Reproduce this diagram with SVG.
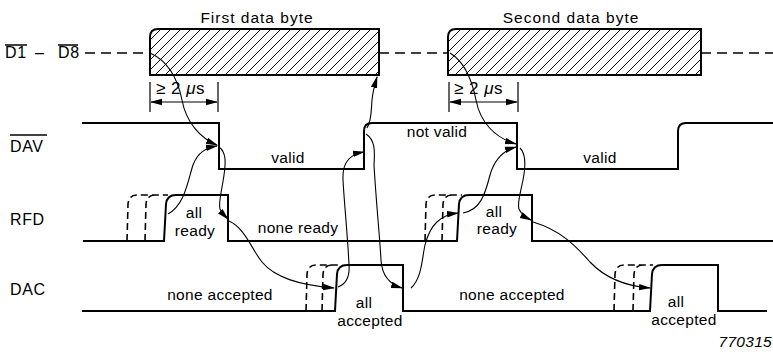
<svg xmlns="http://www.w3.org/2000/svg" width="773" height="356" viewBox="0 0 773 356">
<defs>
<pattern id="hatch" patternUnits="userSpaceOnUse" width="10" height="10">
<path d="M-1,1 L1,-1 M0,10 L10,0 M9,11 L11,9" stroke="#000" stroke-width="1"/>
</pattern>
<marker id="ah" viewBox="0 0 12 8" refX="11" refY="4" markerWidth="12" markerHeight="8" markerUnits="userSpaceOnUse" orient="auto">
<path d="M0,0.8 L12,4 L0,7.2 Z" fill="#000"/>
</marker>
<marker id="ahs" viewBox="0 0 12 8" refX="11" refY="4" markerWidth="12" markerHeight="8" markerUnits="userSpaceOnUse" orient="auto-start-reverse">
<path d="M0,0.8 L12,4 L0,7.2 Z" fill="#000"/>
</marker>
</defs>
<style>
text{font-family:"Liberation Sans",Arial,sans-serif;font-size:15.5px;fill:#000;letter-spacing:0.3px}
.lbl{font-size:16px;letter-spacing:0.6px}
.ttl{letter-spacing:1px;font-size:15.5px}
.dm{font-size:17px;letter-spacing:0.5px}
.sig{fill:none;stroke:#000;stroke-width:2}
.ghost{fill:none;stroke:#000;stroke-width:1.6;stroke-dasharray:7,4}
.dash{fill:none;stroke:#000;stroke-width:1.6;stroke-dasharray:10,6}
.arr{fill:none;stroke:#000;stroke-width:1.1;marker-end:url(#ah)}
.dim{fill:none;stroke:#000;stroke-width:1.2}
.ov{stroke:#000;stroke-width:1.5}
.mid{text-anchor:middle}
</style>
<g id="labels">
<text class="lbl" x="5" y="58">D1<tspan x="35">–</tspan><tspan x="58">D8</tspan></text>
<line class="ov" x1="5" y1="45" x2="27" y2="45"/>
<line class="ov" x1="58" y1="45" x2="78" y2="45"/>
<text class="lbl" x="10" y="152">DAV</text>
<line class="ov" x1="10" y1="135" x2="47" y2="135"/>
<text class="lbl" x="10" y="225">RFD</text>
<text class="lbl" x="10" y="295">DAC</text>
</g>
<g id="data-line">
<path class="dash" d="M85,53 H149 M379,53 H447 M701,53 H773"/>
</g>
<g id="byte1">
<path d="M150,75 V37 Q150,29 158,29 H379 V75 Z" fill="url(#hatch)" stroke="#000" stroke-width="2"/>
<text class="mid ttl" x="257" y="23">First data byte</text>
</g>
<g id="byte2">
<path d="M448,75 V37 Q448,29 456,29 H701 V75 Z" fill="url(#hatch)" stroke="#000" stroke-width="2"/>
<text class="mid ttl" x="571" y="23">Second data byte</text>
</g>
<g id="dim1">
<path class="dim" d="M150,82 V112 M218,82 V112"/>
<path class="dim" d="M151,102 H217" marker-start="url(#ahs)" marker-end="url(#ah)"/>
<text class="dm" x="156" y="94">≥ 2 <tspan font-style="italic">μ</tspan>s</text>
</g>
<g id="dim2">
<path class="dim" d="M449,82 V112 M518,82 V112"/>
<path class="dim" d="M450,102 H517" marker-start="url(#ahs)" marker-end="url(#ah)"/>
<text class="dm" x="454" y="94">≥ 2 <tspan font-style="italic">μ</tspan>s</text>
</g>
<g id="dav">
<path class="sig" d="M82,123 H219 V169 H364 V131 Q364,123 372,123 H517 V169 H678 V131 Q678,123 686,123 H773"/>
<text class="mid" x="288" y="163">valid</text>
<text class="mid" x="437" y="137">not valid</text>
<text class="mid" x="600" y="163">valid</text>
</g>
<g id="rfd">
<path class="ghost" d="M127,241 L128,204 Q129,195 137,195 H168 M145,241 L146,204 Q147,195 155,195"/>
<path class="sig" d="M83,241 H164 L166,204 Q167,195 176,195 H228 V241 H457 L459,204 Q460,195 469,195 H532 V241 H773"/>
<path class="ghost" d="M425,241 L426,204 Q427,195 435,195 H462 M442,241 L443,204 Q444,195 452,195"/>
<text class="mid" x="194" y="218">all</text>
<text class="mid" x="195" y="236">ready</text>
<text class="mid" x="298" y="233">none ready</text>
<text class="mid" x="494" y="217">all</text>
<text class="mid" x="497" y="234">ready</text>
</g>
<g id="dac">
<path class="ghost" d="M306,311 L307,274 Q308,265 316,265 H338 M322,311 L323,274 Q324,265 332,265"/>
<path class="sig" d="M82,311 H335 L337,274 Q338,265 347,265 H403 V311 H650 L652,274 Q653,265 662,265 H718 V311 H767"/>
<path class="ghost" d="M614,311 L615,274 Q616,265 624,265 H653 M633,311 L634,274 Q635,265 643,265"/>
<text class="mid" x="220" y="300">none accepted</text>
<text class="mid" x="364" y="308">all</text>
<text class="mid" x="370" y="326">accepted</text>
<text class="mid" x="512" y="300">none accepted</text>
<text class="mid" x="676" y="307">all</text>
<text class="mid" x="684" y="325">accepted</text>
</g>
<g id="connectors">
<path class="arr" d="M150,53 C170,62 178,80 182,100 C186,122 200,138 217,145"/>
<path class="arr" d="M168,214 C185,205 188,180 193,165 C198,152 206,148 217,146"/>
<path class="arr" d="M219,147 C226,152 226,162 224,175 C222,190 218,203 220,209 C222,214 225,216 228,219"/>
<path class="arr" d="M229,221 C245,228 252,250 262,262 C275,278 300,285 334,288"/>
<path class="arr" d="M338,287 C346,284 350,278 349,265 C348,240 344,200 343,180 C342,160 352,154 364,152"/>
<path class="arr" d="M367,128 C372,120 371,110 372,100 C373,90 375,84 377,77"/>
<path class="arr" d="M366,134 C375,140 375,150 374,165 C376,200 380,240 381,260 C382,278 392,285 402,288"/>
<path class="arr" d="M411,288 C422,278 422,258 425,245 C430,225 440,215 458,213"/>
<path class="arr" d="M463,213 C480,210 485,195 490,175 C495,158 505,150 516,147"/>
<path class="arr" d="M450,53 C465,62 472,80 476,100 C480,122 495,138 516,144"/>
<path class="arr" d="M520,148 C526,154 526,165 523,180 C520,195 517,203 519,209 C521,214 525,217 531,220"/>
<path class="arr" d="M533,222 C560,230 575,245 590,262 C605,278 625,286 650,288"/>
</g>
<text x="772" y="347" text-anchor="end" font-style="italic" font-size="12" letter-spacing="0">770315</text>
</svg>
